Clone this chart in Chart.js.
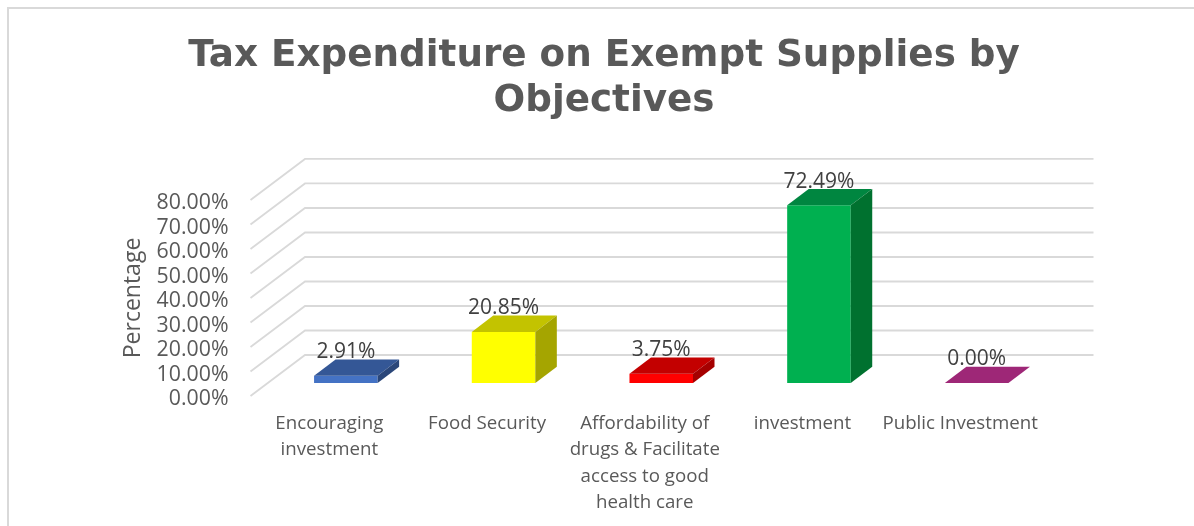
<!DOCTYPE html>
<html>
<head>
<meta charset="utf-8">
<script src="https://cdn.jsdelivr.net/npm/chart.js@4"></script>
<style>
  html, body { margin: 0; padding: 0; background: #fff; }
  #wrap { position: relative; width: 1194px; height: 526px; overflow: hidden; }
  #wrap::before { content: ""; position: absolute; left: 7px; top: 7px; right: 0; bottom: 0; border-top: 2px solid #d9d9d9; border-left: 2px solid #d9d9d9; }
  #chartTax { position: absolute; left: 0; top: 0; }
</style>
</head>
<body>
<div id="wrap"><canvas id="chartTax" width="1194" height="526"></canvas></div>
<script>
const titleLines = ['Tax Expenditure on Exempt Supplies by', 'Objectives'];
const axisTitle = 'Percentage';
const categories = [
  ['Encouraging', 'investment'],
  'Food Security',
  ['Affordability of', 'drugs & Facilitate', 'access to good', 'health care'],
  'investment',
  'Public Investment'
];
const values = [2.91, 20.85, 3.75, 72.49, 0];
const yMin = 0;
const yMax = 80;
const yStep = 10;

const frontColors = ['#4472c4', '#ffff00', '#ff0000', '#00b050', '#9e2777'];
const topColors = ['#345796', '#c3c300', '#c30000', '#008640', '#9e2777'];
const sideColors = ['#2a4679', '#a5a500', '#a50000', '#00712f', '#9e2777'];

const GRID = '#d9d9d9';
const TEXT = '#595959';
const LABEL = '#404040';
const SANS = '"Open Sans", sans-serif';

// the box sits a little above the axis so tick text lines up with the floor edge
const lift = 3;
// floor depth of the box, and where the bars stand inside it
const floorDx = 54.5, floorDy = 41;
const barDx = 16.5, barDy = 13;
const capDx = 21.5, capDy = 16.3;

function poly(ctx, color, pts) {
  ctx.fillStyle = color;
  ctx.beginPath();
  pts.forEach((p, i) => i ? ctx.lineTo(p[0], p[1]) : ctx.moveTo(p[0], p[1]));
  ctx.closePath();
  ctx.fill();
}

const box3d = {
  id: 'box3d',
  afterLayout(chart) {
    // title is centred on the whole frame, not on the plot
    chart.titleBlock.left += 9.5;
    chart.titleBlock.right += 9.5;
  },
  beforeDatasetsDraw(chart) {
    const { ctx, scales: { y }, chartArea: a } = chart;
    ctx.save();
    ctx.translate(0, -lift);
    ctx.strokeStyle = GRID;
    ctx.lineWidth = 1.8;
    y.ticks.forEach(t => {
      const py = y.getPixelForValue(t.value);
      ctx.beginPath();
      ctx.moveTo(a.left, py);
      ctx.lineTo(a.left + floorDx, py - floorDy);
      ctx.lineTo(a.right + floorDx, py - floorDy);
      ctx.stroke();
    });
    ctx.translate(barDx, -barDy);
  },
  afterDatasetsDraw(chart) {
    const { ctx, scales: { y } } = chart;
    const bars = chart.getDatasetMeta(0).data;
    bars.forEach((b, i) => {
      const l = b.x - b.width / 2, r = b.x + b.width / 2;
      poly(ctx, topColors[i], [[l, b.y], [r, b.y], [r + capDx, b.y - capDy], [l + capDx, b.y - capDy]]);
      if (b.base - b.y > 0.5) {
        poly(ctx, sideColors[i], [[r, b.y], [r + capDx, b.y - capDy], [r + capDx, b.base - capDy], [r, b.base]]);
      }
    });
    ctx.fillStyle = LABEL;
    ctx.font = '21px ' + SANS;
    ctx.textAlign = 'center';
    ctx.textBaseline = 'middle';
    bars.forEach((b, i) => {
      ctx.fillText(values[i].toFixed(2) + '%', b.x, b.y - 23.5);
    });
    ctx.restore();

    // axis title, rotated beside the tick labels
    ctx.save();
    ctx.translate(133, (y.top + y.bottom) / 2 - lift);
    ctx.rotate(-Math.PI / 2);
    ctx.fillStyle = TEXT;
    ctx.font = '23px ' + SANS;
    ctx.textAlign = 'center';
    ctx.textBaseline = 'middle';
    ctx.fillText(axisTitle, 0, 0);
    ctx.restore();
  }
};

new Chart(document.getElementById('chartTax'), {
  type: 'bar',
  data: {
    labels: categories,
    datasets: [{
      data: values,
      backgroundColor: frontColors,
      borderWidth: 0,
      categoryPercentage: 1,
      barPercentage: 0.403
    }]
  },
  options: {
    responsive: false,
    animation: false,
    layout: { padding: { left: 150, right: 155, top: 0, bottom: 0 } },
    plugins: {
      legend: { display: false },
      tooltip: { enabled: false },
      title: {
        display: true,
        text: titleLines,
        color: TEXT,
        font: { family: '"DejaVu Sans"', size: 37.3, weight: 'bold', lineHeight: 1.206 },
        padding: { top: 34, bottom: 79 }
      }
    },
    scales: {
      x: {
        grid: { display: false },
        border: { display: false },
        ticks: {
          color: TEXT,
          font: { family: SANS, size: 18.7, lineHeight: 1.42 },
          padding: 3,
          autoSkip: false,
          maxRotation: 0
        },
        afterFit(s) { s.height = 127; }
      },
      y: {
        min: yMin,
        max: yMax,
        grid: { display: false },
        border: { display: false },
        ticks: {
          stepSize: yStep,
          color: TEXT,
          font: { family: SANS, size: 21.3 },
          padding: 14,
          autoSkip: false,
          callback: v => v.toFixed(2) + '%'
        },
        afterFit(s) { s.width = 100.5; }
      }
    }
  },
  plugins: [box3d]
});
</script>
</body>
</html>
